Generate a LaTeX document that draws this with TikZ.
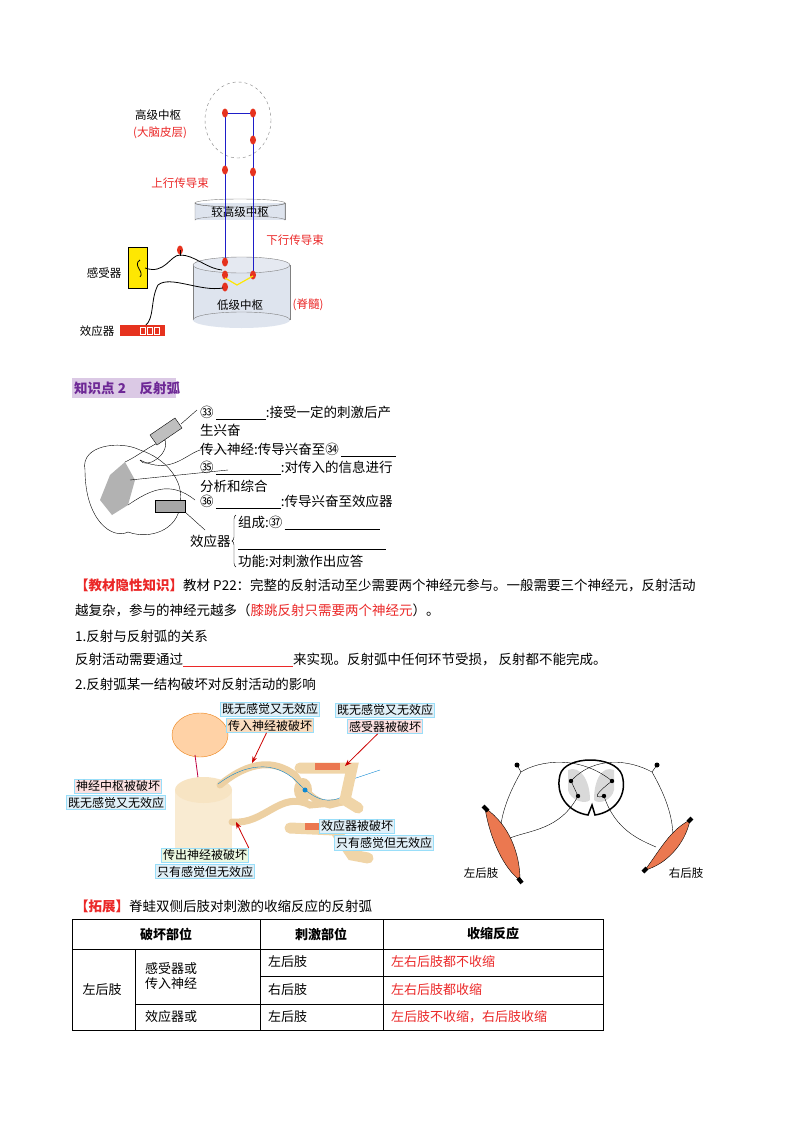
\documentclass[tikz,border=0pt]{standalone}
\usepackage{fontspec}
\setmainfont{Noto Sans CJK SC}
\usetikzlibrary{positioning,arrows.meta,shapes.geometric,decorations.pathreplacing}
\definecolor{nblue}{RGB}{30,30,200}
\definecolor{nred}{RGB}{230,50,30}
\definecolor{tred}{RGB}{235,40,40}
\definecolor{purp}{RGB}{110,40,150}
\definecolor{cyl}{RGB}{222,228,238}
\definecolor{skin}{RGB}{245,222,180}
\definecolor{musc}{RGB}{235,120,80}
\definecolor{bluebox}{RGB}{225,240,248}
\definecolor{orbox}{RGB}{250,220,190}
\definecolor{pkbox}{RGB}{252,225,225}
\definecolor{grbox}{RGB}{235,248,225}
\tikzset{
  soma/.style={ellipse,fill=nred,inner sep=0pt,minimum width=6pt,minimum height=9pt},
  txt/.style={anchor=west,inner sep=0pt,font=\fontsize{13.5}{16}\selectfont},
  small/.style={inner sep=0pt,font=\fontsize{11.5}{14}\selectfont},
  tag/.style={draw=cyan!40,fill=#1,inner sep=1.5pt,font=\fontsize{12}{14}\selectfont},
  cell/.style={inner sep=0pt,font=\fontsize{13}{15}\selectfont}
}
\begin{document}
\begin{tikzpicture}[x=1pt,y=-1pt]
  \useasboundingbox[fill=white] (0,0) rectangle (800,1132);
  % top: levels of centres
  \draw[dashed,gray] (238,120) ellipse (33 and 38);
  \fill[cyl] (193,265) rectangle (290,320);
  \draw[gray] (193,265) -- (193,320) (290,265) -- (290,320);
  \fill[cyl] (241.5,320) ellipse (48.5 and 8);
  \draw[gray] (193,320) arc (180:360:48.5 and 8);
  \draw[gray,fill=cyl!80!white] (241.5,265) ellipse (48.5 and 8);
  \fill[cyl] (195,203) rectangle (285,220);
  \draw[gray] (195,203) -- (195,220) (285,203) -- (285,220);
  \draw[gray,fill=cyl] (195,220) arc (180:360:45 and 4) -- (285,203) arc (0:180:45 and 4) -- cycle;
  \draw[gray] (240,203) ellipse (45 and 4);
  \node[small] (mid) at (240,212) {较高级中枢};
  \node[small] (low) at (240,305) {低级中枢};
  \node[small,text=tred] (spine) at (308,305) {(脊髓)};
  \node[small] (high) at (158,115) {高级中枢};
  \node[small,text=tred] (cortex) at (160,133) {(大脑皮层)};
  \node[small,text=tred] (up) at (180,183) {上行传导束};
  \node[small,text=tred] (down) at (295,240) {下行传导束};
  \draw[nblue,thick] (225,113) -- (253,113);
  \draw[nblue,thick] (225,113) -- (225,262);
  \draw[nblue,thick] (253,113) -- (253,275);
  \foreach \p in {(225,113),(253,113),(253,140),(225,170),(253,172),(225,262),(225,275),(225,287),(253,275),(180,250)}
    \node[soma] at \p {};
  \draw[yellow!90!orange,very thick] (225,278) -- (237,285) -- (253,276);
  \fill[yellow!90!orange] (128,247) rectangle (147,288);
  \draw (128,247) rectangle (147,288);
  \draw[thick] (140,260) .. controls (132,265) and (145,272) .. (140,277);
  \draw[thick] (145,268) .. controls (165,275) and (170,255) .. (180,255) .. controls (195,255) and (205,268) .. (222,270);
  \draw[thick] (180,250) -- (180,256);
  \draw[thick] (223,288) .. controls (200,292) and (170,275) .. (158,285) .. controls (150,300) and (155,318) .. (145,326);
  \fill[nred] (120,325) rectangle (165,336);
  \foreach \x in {140,147,154} \draw[white] (\x,327) rectangle +(5,7);
  \node[small] (rec) at (104,273) {感受器};
  \node[small] (eff) at (97,331) {效应器};
  % section title
  \fill[purp!25] (72,378) rectangle (176,398);
  \node[txt,text=purp,font=\bfseries\fontsize{13.5}{16}\selectfont] (title) at (74,388) {知识点 2\quad 反射弧};
  % reflex arc sketch
  \draw (85,470) .. controls (80,445) and (120,440) .. (140,450) .. controls (165,458) and (185,480) .. (180,505)
    .. controls (178,530) and (150,540) .. (128,532) .. controls (112,540) and (85,520) .. (85,470) -- cycle;
  \fill[gray!60] (110,475) -- (125,462) -- (135,480) -- (128,505) -- (112,515) -- (100,500) -- cycle;
  \draw (125,462) .. controls (140,455) and (150,445) .. (165,440) .. controls (170,455) and (145,470) .. (140,460);
  \draw (140,460) .. controls (170,475) and (185,455) .. (200,450) -- (228,450);
  \draw (130,480) -- (228,470);
  \draw (128,505) .. controls (150,490) and (170,480) .. (195,500);
  \fill[gray!50,draw=black] (150,435) -- (175,418) -- (182,428) -- (157,445) -- cycle;
  \fill[gray!70,draw=black] (155,500) rectangle (185,512);
  \draw (181,424) -- (197,410);
  \draw (185,512) -- (205,530);
  \node[txt] (a33) at (200,413) {㉝\,\underline{\hspace{50pt}}:接受一定的刺激后产};
  \node[txt] (a33b) at (200,430) {生兴奋};
  \node[txt] (a34) at (200,450) {传入神经:传导兴奋至㉞\,\underline{\hspace{55pt}}};
  \node[txt] (a35) at (200,468) {㉟\,\underline{\hspace{65pt}}:对传入的信息进行};
  \node[txt] (a35b) at (200,486) {分析和综合};
  \node[txt] (a36) at (200,502) {㊱\,\underline{\hspace{65pt}}:传导兴奋至效应器};
  \node[txt] (e1) at (238,523) {组成:㊲\,\underline{\hspace{95pt}}};
  \draw (238,549) -- (386,549);
  \node[txt] (e3) at (238,561) {功能:对刺激作出应答};
  \node[txt] (eff2) at (190,541) {效应器};
  \draw[decorate,decoration={brace,amplitude=4pt,mirror}] (236,515) -- (236,567);
  % paragraphs
  \node[txt] (p1) at (75,585) {\textcolor{tred}{\bfseries【教材隐性知识】}教材 P22：完整的反射活动至少需要两个神经元参与。一般需要三个神经元，反射活动};
  \node[txt] (p2) at (75,610) {越复杂，参与的神经元越多（\textcolor{tred}{膝跳反射只需要两个神经元}）。};
  \node[txt] (p3) at (75,636) {1.反射与反射弧的关系};
  \node[txt] (p4) at (75,660) {反射活动需要通过\textcolor{tred}{\underline{\hspace{110pt}}}来实现。反射弧中任何环节受损，\ 反射都不能完成。};
  \node[txt] (p5) at (75,684) {2.反射弧某一结构破坏对反射活动的影响};
  % knee-jerk figure
  \fill[orange!35] (200,735) ellipse (28 and 22);
  \draw[orange!70!brown] (200,735) ellipse (28 and 22);
  \draw[purple,thick] (195,755) -- (203,815);
  \fill[skin!60] (175,790) rectangle (232,850);
  \fill[skin!60] (203.5,850) ellipse (28.5 and 12);
  \fill[skin!80] (203.5,790) ellipse (28.5 and 13);
  \draw[skin!85!brown,line width=7pt,line cap=round] (220,785) .. controls (250,760) and (275,760) .. (295,775)
    .. controls (305,790) and (310,800) .. (330,805) -- (342,802);
  \fill[skin!85!brown] (303,790) ellipse (9 and 12);
  \draw[skin!85!brown,line width=7pt,line cap=round] (232,822) .. controls (265,825) and (280,790) .. (310,805) -- (342,802);
  \draw[cyan!70!blue] (218,784) .. controls (250,760) and (280,762) .. (300,785) .. controls (315,800) and (330,805) .. (345,795) -- (350,780) -- (380,770);
  \fill[cyan!70!blue] (305,790) circle (2.5pt);
  \draw[skin!90!brown,line width=11pt,line cap=round] (300,768) -- (352,768) -- (345,800) -- (358,808);
  \fill[musc] (315,763) rectangle (340,770);
  \draw[skin!90!brown,line width=11pt,line cap=round] (290,828) -- (335,830) -- (352,855) -- (368,858);
  \fill[musc] (305,823) rectangle (330,830);
  \node[tag=bluebox] (t1) at (270,709) {既无感觉又无效应};
  \node[tag=orbox,below=2pt of t1] (t2) {传入神经被破坏};
  \node[tag=bluebox] (t3) at (385,710) {既无感觉又无效应};
  \node[tag=pkbox,below=2pt of t3] (t4) {感受器被破坏};
  \node[tag=pkbox] (t5) at (118,786) {神经中枢被破坏};
  \node[tag=bluebox,below=2pt of t5.south west,anchor=north west,xshift=-8pt] (t6) {既无感觉又无效应};
  \node[tag=bluebox] (t7) at (357,826) {效应器被破坏};
  \node[tag=bluebox,below=2pt of t7.south west,anchor=north west,xshift=15pt] (t8) {只有感觉但无效应};
  \node[tag=grbox] (t9) at (205,855) {传出神经被破坏};
  \node[tag=bluebox,below=2pt of t9] (t10) {只有感觉但无效应};
  \coordinate (h1) at (252,763);
  \coordinate (h2) at (345,766);
  \coordinate (h3) at (236,822);
  \draw[-{Stealth},red!80!black,thick] (t2) -- (h1);
  \draw[-{Stealth},red!80!black,thick] (t4) -- (h2);
  \draw[-{Stealth},red!80!black,thick] (t9.north east) -- (h3);
  % frog spinal reflex
  \draw[fill=white,line width=1.5pt] (560,775) .. controls (565,755) and (615,755) .. (622,775) .. controls (628,795) and (615,812) .. (595,815) -- (592,805) -- (588,815) .. controls (568,812) and (555,795) .. (560,775);
  \fill[gray!30] (568,770) .. controls (580,765) and (590,780) .. (590,800) .. controls (585,805) and (570,800) .. (568,790) -- cycle;
  \fill[gray!30] (614,770) .. controls (602,765) and (594,780) .. (594,800) .. controls (599,805) and (612,800) .. (614,790) -- cycle;
  \foreach \p/\n in {(571,781)/c1,(612,781)/c2,(578,796)/c3,(604,796)/c4} \fill \p circle (2.2pt) coordinate (\n);
  \fill (517,765) circle (2.5pt) coordinate (sL);
  \fill (657,765) circle (2.5pt) coordinate (sR);
  \draw (sL) -- (521,772) .. controls (540,760) and (580,755) .. (612,781) .. controls (600,790) and (590,800) .. (604,796);
  \draw (521,772) .. controls (505,800) and (500,820) .. (500,838);
  \draw (sR) -- (652,772) .. controls (630,760) and (595,755) .. (571,781) -- (578,796);
  \draw (652,772) .. controls (668,800) and (673,820) .. (673,838);
  \draw (578,796) .. controls (560,830) and (530,830) .. (510,838);
  \draw (604,796) .. controls (615,830) and (640,840) .. (656,847);
  \draw[fill=musc] (485,808) .. controls (510,825) and (520,855) .. (520,880) .. controls (505,870) and (490,840) .. (485,808);
  \draw[line width=4pt] (483,806) -- (488,811) (518,878) -- (522,883);
  \draw[fill=musc] (690,820) .. controls (685,845) and (665,865) .. (645,870) .. controls (660,850) and (670,830) .. (690,820);
  \draw[line width=4pt] (692,818) -- (688,822) (647,868) -- (643,872);
  \node[small] (lL) at (481,873) {左后肢};
  \node[small] (lR) at (686,873) {右后肢};
  % table
  \node[txt] (ext) at (75,906) {\textcolor{tred}{\bfseries【拓展】}脊蛙双侧后肢对刺激的收缩反应的反射弧};
  \draw (72,919) rectangle (603,1030);
  \draw (72,949) -- (603,949);
  \draw (260,976) -- (603,976) (135,1004) -- (603,1004);
  \draw (135,949) -- (135,1030) (260,919) -- (260,1030) (383,919) -- (383,1030);
  \node[cell,font=\bfseries\fontsize{13}{15}\selectfont] (h1c) at (166,934) {破坏部位};
  \node[cell,font=\bfseries\fontsize{13}{15}\selectfont] (h2c) at (321,934) {刺激部位};
  \node[cell,font=\bfseries\fontsize{13}{15}\selectfont] (h3c) at (493,934) {收缩反应};
  \node[cell] (r1) at (102,990) {左后肢};
  \node[cell,align=left,anchor=west] (r2) at (145,976) {感受器或\\传入神经};
  \node[cell,anchor=west] (r3) at (145,1017) {效应器或};
  \node[cell,anchor=west] (s1) at (268,962) {左后肢};
  \node[cell,anchor=west] (s2) at (268,990) {右后肢};
  \node[cell,anchor=west] (s3) at (268,1017) {左后肢};
  \node[cell,anchor=west,text=tred] (c1r) at (391,962) {左右后肢都不收缩};
  \node[cell,anchor=west,text=tred] (c2r) at (391,990) {左右后肢都收缩};
  \node[cell,anchor=west,text=tred] (c3r) at (391,1017) {左后肢不收缩，右后肢收缩};
\end{tikzpicture}
\end{document}
